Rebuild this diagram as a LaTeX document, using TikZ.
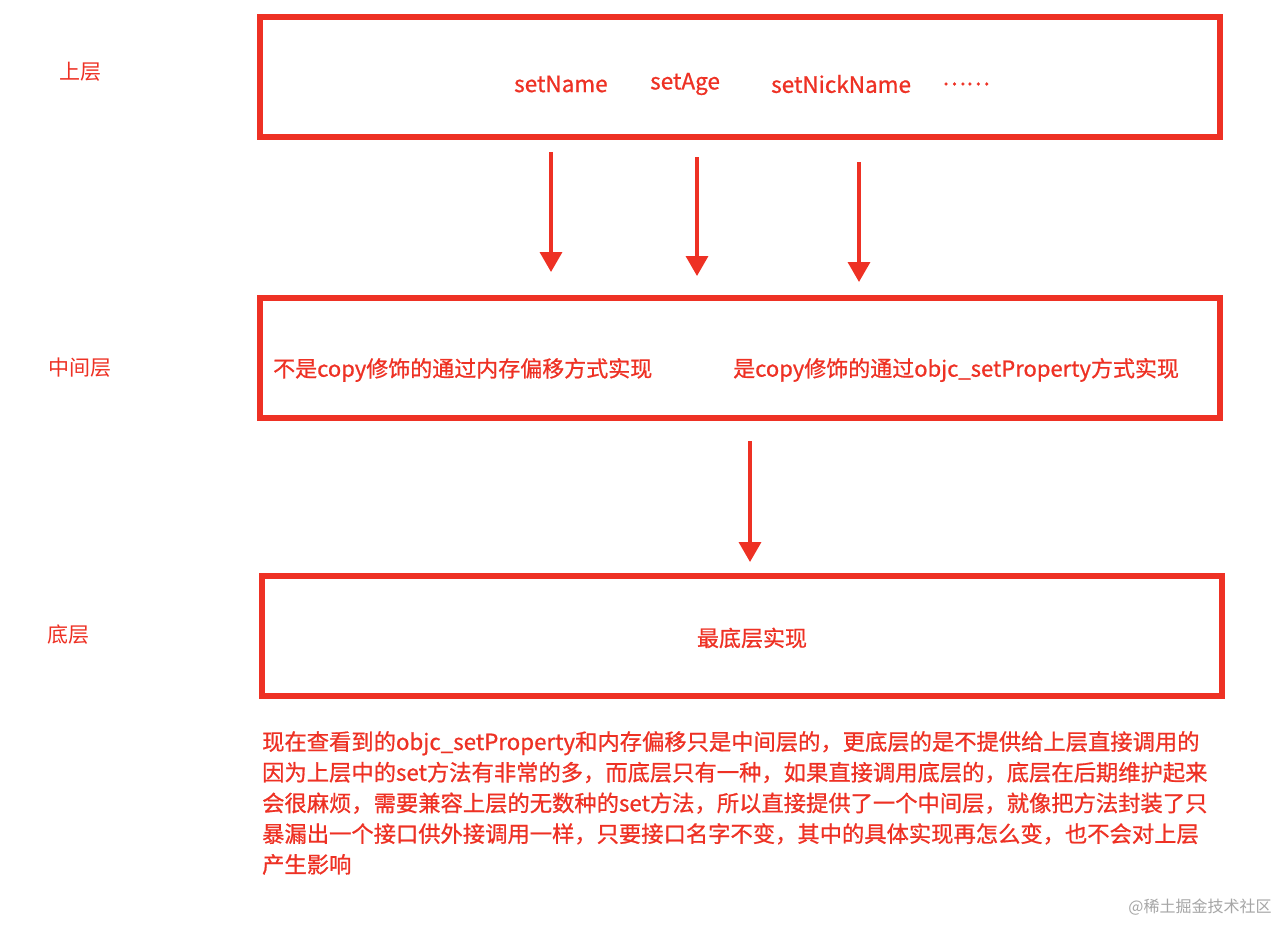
\documentclass[tikz,border=0pt]{standalone}
\usepackage{fontspec}
\setmainfont{Noto Sans CJK SC}
\newfontfamily\med[FakeBold=0.8]{Noto Sans CJK SC}
\usetikzlibrary{arrows.meta}
\definecolor{rd}{HTML}{EE3124}
\tikzset{box/.style={draw=rd,line width=6pt},
lab/.style={text=rd,font=\med\fontsize{22.5}{24}\selectfont,inner sep=0},
arr/.style={draw=rd,line width=3.5pt,-{Triangle[length=20pt,width=22pt]}}}
\begin{document}
\begin{tikzpicture}[x=1pt,y=-1pt]
\useasboundingbox[fill=white] (0,0) rectangle (1288,924);
\draw[box] (260,17) rectangle (1220,137);
\draw[box] (260,298) rectangle (1220,418);
\draw[box] (262,576) rectangle (1222,696);
\node[lab,font=\fontsize{21}{24}\selectfont] (l1) at (80,72) {上层};
\node[lab,font=\fontsize{21}{24}\selectfont] (l2) at (80,368) {中间层};
\node[lab,font=\fontsize{21}{24}\selectfont] (l3) at (68,635) {底层};
\node[lab,anchor=west] (t1) at (514,84) {setName};
\node[lab,anchor=west] (t2) at (650,84) {setAge};
\node[lab,anchor=west] (t3) at (771,84) {setNickName};
\node[lab,anchor=west] (t4) at (942,84) {……};
\node[lab,anchor=west,font=\med\fontsize{22}{24}\selectfont] (m1) at (273,370) {不是copy修饰的通过内存偏移方式实现};
\node[lab,anchor=west,font=\med\fontsize{22}{24}\selectfont] (m2) at (733,370) {是copy修饰的通过objc\_setProperty方式实现};
\node[lab,font=\med\fontsize{22}{24}\selectfont] (b1) at (752,638) {最底层实现};
\coordinate (a1s) at (551,152); \coordinate (a1e) at (551,272);
\coordinate (a2s) at (697,157); \coordinate (a2e) at (697,276);
\coordinate (a3s) at (859,162); \coordinate (a3e) at (859,282);
\coordinate (a4s) at (750,441); \coordinate (a4e) at (750,562);
\draw[arr] (a1s) -- (a1e);
\draw[arr] (a2s) -- (a2e);
\draw[arr] (a3s) -- (a3e);
\draw[arr] (a4s) -- (a4e);
\node[lab,anchor=north west,align=left,font=\med\fontsize{22.3}{30.7}\selectfont] (p) at (262,731) {现在查看到的objc\_setProperty和内存偏移只是中间层的，更底层的是不提供给上层直接调用的\\因为上层中的set方法有非常的多，而底层只有一种，如果直接调用底层的，底层在后期维护起来\\会很麻烦，需要兼容上层的无数种的set方法，所以直接提供了一个中间层，就像把方法封装了只\\暴漏出一个接口供外接调用一样，只要接口名字不变，其中的具体实现再怎么变，也不会对上层\\产生影响};
\node[text=gray!70,font=\fontsize{16}{18}\selectfont,inner sep=0] (wm) at (1200,907) {@稀土掘金技术社区};
\end{tikzpicture}
\end{document}
